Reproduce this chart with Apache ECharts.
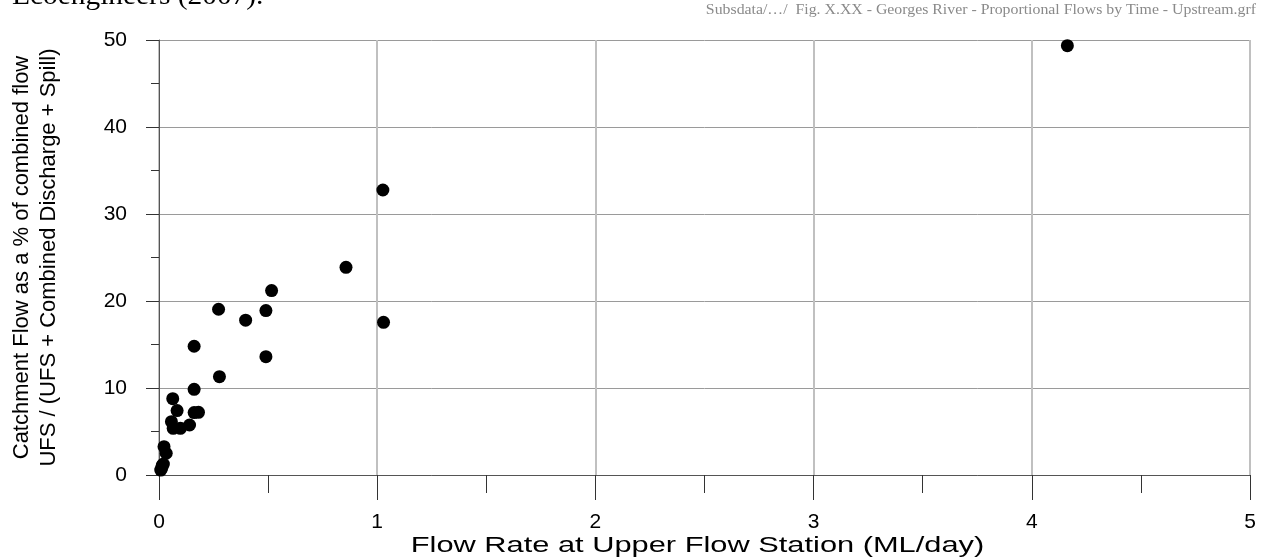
<!DOCTYPE html>
<html>
<head>
<meta charset="utf-8">
<script src="https://cdn.jsdelivr.net/npm/echarts@6/dist/echarts.min.js"></script>
<style>
html,body{margin:0;padding:0;background:#fff;}
#chart{width:1268px;height:558px;}
</style>
</head>
<body>
<div id="chart"></div>
<script>
// Flow rate at Upper Flow Station (ML/day)
const flowRate = [4.163, 1.026, 0.857, 0.516, 0.273, 0.49, 0.397, 1.029, 0.161, 0.49, 0.277, 0.161, 0.063, 0.083, 0.161, 0.181, 0.057, 0.065, 0.098, 0.14, 0.023, 0.033, 0.02, 0.012, 0.008, 0.015];
// Catchment flow as % of combined flow
const catchPct = [49.35, 32.76, 23.87, 21.2, 19.05, 18.9, 17.8, 17.55, 14.8, 13.6, 11.3, 9.85, 8.77, 7.4, 7.17, 7.2, 6.13, 5.36, 5.36, 5.75, 3.26, 2.5, 1.26, 0.77, 0.57, 1.1];
const xTitle = 'Flow Rate at Upper Flow Station (ML/day)';
const yTitle = 'Catchment Flow as a % of combined flow\nUFS / (UFS + Combined Discharge + Spill)';
const headerLeft = 'Ecoengineers (2007).';
const headerRight = 'Subsdata/\u2026/  Fig. X.XX - Georges River - Proportional Flows by Time - Upstream.grf';

const points = flowRate.map((x, i) => [x, catchPct[i]]);
const sans = '"Liberation Sans", Arial, sans-serif';
const serif = '"Liberation Serif", "Times New Roman", serif';

const chart = echarts.init(document.getElementById('chart'), null, {renderer: 'canvas'});
chart.setOption({
  animation: false,
  backgroundColor: '#ffffff',
  grid: {left: 145, right: 18, top: 40, bottom: 83, containLabel: false},
  graphic: [
    {type: 'text', x: 12, y: 11, scaleX: 1.05,
     style: {text: headerLeft, font: '28px ' + serif, fill: '#000', textAlign: 'left', textVerticalAlign: 'bottom'}},
    {type: 'text', x: 1256, y: 10, scaleX: 1.13,
     style: {text: headerRight, font: '14px ' + serif, fill: '#8a8a8a', textAlign: 'right', textVerticalAlign: 'middle'}},
    {type: 'text', x: 697.5, y: 546, scaleX: 1.40,
     style: {text: xTitle, font: '22px ' + sans, fill: '#000', textAlign: 'center', textVerticalAlign: 'middle'}}
  ],
  xAxis: {
    type: 'value', min: 0, max: 5, interval: 1,
    axisLine: {show: true, onZero: false, lineStyle: {color: '#555', width: 1}},
    axisTick: {show: true, inside: false, length: 25, lineStyle: {color: '#333'}},
    minorTick: {show: true, splitNumber: 2, length: 18, lineStyle: {color: '#333'}},
    axisLabel: {fontFamily: sans, fontSize: 21, color: '#000', margin: 37},
    splitLine: {show: true, lineStyle: {color: '#c0c0c0', width: 2}}
  },
  yAxis: {
    type: 'value', min: 0, max: 50, interval: 10,
    name: yTitle, nameLocation: 'middle', nameGap: 97, nameRotate: 90,
    nameTextStyle: {fontFamily: sans, fontSize: 22, color: '#000', lineHeight: 27},
    axisLine: {show: true, onZero: false, lineStyle: {color: '#555', width: 1}},
    axisTick: {show: true, inside: false, length: 13, lineStyle: {color: '#333'}},
    minorTick: {show: true, splitNumber: 2, length: 8, lineStyle: {color: '#333'}},
    axisLabel: {fontFamily: sans, fontSize: 21, color: '#000', margin: 32},
    splitLine: {show: true, lineStyle: {color: '#9a9a9a', width: 1}}
  },
  series: [{
    type: 'scatter',
    data: points,
    symbol: 'circle',
    symbolSize: 13,
    itemStyle: {color: '#000', opacity: 1},
    emphasis: {disabled: true}
  }]
});
</script>
</body>
</html>
